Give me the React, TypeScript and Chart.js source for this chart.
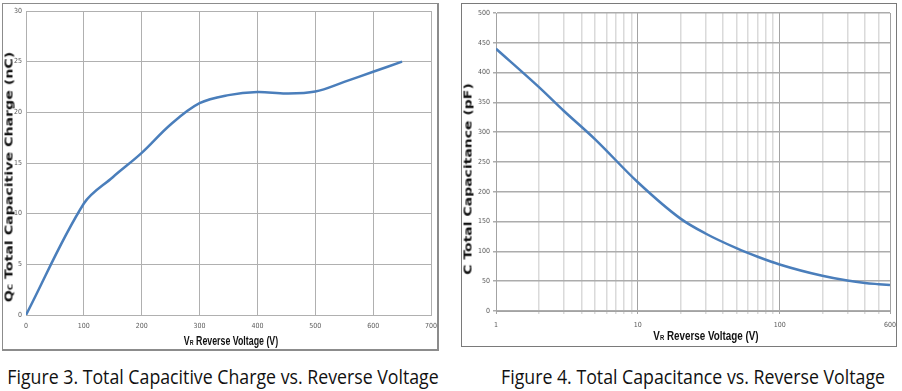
import React, { useEffect, useLayoutEffect, useRef, useState } from "react";
import { Chart, registerables } from "chart.js";

Chart.register(...registerables);

// ---- Figure 3 data ----
const chargeVoltage = [0, 100, 150, 200, 250, 300, 350, 400, 450, 500, 550, 600, 650];
const chargeValues = [0, 11.0, 13.6, 16.0, 18.8, 20.9, 21.7, 22.0, 21.85, 22.05, 23.0, 24.0, 25.0];

// ---- Figure 4 data ----
const capVoltage = [1, 2, 3, 5, 10, 20, 30, 50, 70, 100, 200, 300, 400, 500, 600];
const capValues = [440, 376, 336, 288, 216, 155, 130, 105, 91, 78, 59, 51, 47, 45, 43.5];

const logTicks = [1, 2, 3, 4, 5, 6, 7, 8, 9, 10, 20, 30, 40, 50, 60, 70, 80, 90, 100, 200, 300, 400, 500, 600];
const logLabels = [1, 10, 100, 600];
const logMajor = [1, 10, 100, 600];

const LINE = "#4a7ebb";
const TICK_FONT = { family: "'Liberation Sans Narrow', 'DejaVu Sans Condensed', 'Liberation Sans', sans-serif", size: 7 };
const TICK_COLOR = "#5a5a5a";

function FitText(props: any) {
  const { cx, cy, width, rotate, style, children } = props;
  const ref = useRef<HTMLSpanElement>(null);
  const [k, setK] = useState(1);
  useLayoutEffect(() => {
    const measure = () => {
      const el = ref.current;
      if (el) {
        const w = el.offsetWidth;
        if (w > 0) setK(width / w);
      }
    };
    measure();
    const f: any = (document as any).fonts;
    if (f && f.ready) f.ready.then(measure);
  }, [width]);
  return (
    <span
      ref={ref}
      style={{
        position: "absolute",
        left: cx,
        top: cy,
        whiteSpace: "nowrap",
        lineHeight: 1,
        transform: `translate(-50%, -50%) ${rotate ? "rotate(-90deg) " : ""}scaleX(${k})`,
        ...style,
      }}
    >
      {children}
    </span>
  );
}

function ChargeChart() {
  const ref = useRef<HTMLCanvasElement>(null);
  useEffect(() => {
    if (!ref.current) return;
    const chart = new Chart(ref.current, {
      type: "line",
      data: {
        datasets: [
          {
            data: chargeVoltage.map((v, i) => ({ x: v, y: chargeValues[i] })),
            borderColor: LINE,
            borderWidth: 2.5,
            pointRadius: 0,
            tension: 0.35,
            fill: false,
          },
        ],
      },
      options: {
        animation: false,
        responsive: false,
        maintainAspectRatio: false,
        layout: { padding: { top: 7, right: 6, left: 0, bottom: 0 } },
        plugins: { legend: { display: false }, tooltip: { enabled: false } },
        scales: {
          x: {
            type: "linear",
            min: 0,
            max: 700,
            afterFit: (s: any) => { s.height = 34; s.paddingLeft = 0; s.paddingRight = 0; },
            ticks: { stepSize: 100, font: TICK_FONT, color: TICK_COLOR, padding: 7, maxRotation: 0 },
            grid: { color: "#b0b0b0", lineWidth: 1, drawTicks: false },
            border: { color: "#b0b0b0" },
          },
          y: {
            type: "linear",
            min: 0,
            max: 30,
            afterFit: (s: any) => { s.width = 23; s.paddingTop = 0; s.paddingBottom = 0; },
            ticks: { stepSize: 5, font: TICK_FONT, color: TICK_COLOR, padding: 4 },
            grid: { color: "#b0b0b0", lineWidth: 1, drawTicks: false },
            border: { color: "#b0b0b0" },
          },
        },
      },
    } as any);
    return () => chart.destroy();
  }, []);
  return <canvas ref={ref} width={434} height={345} style={{ position: "absolute", left: 0, top: 0, width: 434, height: 345 }} />;
}

function CapChart() {
  const ref = useRef<HTMLCanvasElement>(null);
  useEffect(() => {
    if (!ref.current) return;
    const chart = new Chart(ref.current, {
      type: "line",
      data: {
        datasets: [
          {
            data: capVoltage.map((v, i) => ({ x: v, y: capValues[i] })),
            borderColor: LINE,
            borderWidth: 2.5,
            pointRadius: 0,
            cubicInterpolationMode: "monotone",
            fill: false,
          },
        ],
      },
      options: {
        animation: false,
        responsive: false,
        maintainAspectRatio: false,
        layout: { padding: { top: 9, right: 6, left: 0, bottom: 0 } },
        plugins: { legend: { display: false }, tooltip: { enabled: false } },
        scales: {
          x: {
            type: "logarithmic",
            min: 1,
            max: 600,
            afterFit: (s: any) => { s.height = 35; s.paddingLeft = 0; s.paddingRight = 0; },
            afterBuildTicks: (s: any) => { s.ticks = logTicks.map((v) => ({ value: v })); },
            ticks: {
              autoSkip: false,
              maxRotation: 0,
              font: TICK_FONT,
              color: TICK_COLOR,
              padding: 7,
              callback: (v: any) => (logLabels.includes(Number(v)) ? String(v) : ""),
            },
            grid: {
              color: (c: any) => (c.tick && logMajor.includes(c.tick.value) ? "#a3a3a3" : "#dadada"),
              lineWidth: (c: any) => (c.tick && logMajor.includes(c.tick.value) ? 1 : 1.5),
              drawTicks: true,
              tickLength: 3,
            },
            border: { color: "#a3a3a3" },
          },
          y: {
            type: "linear",
            min: 0,
            max: 500,
            afterFit: (s: any) => { s.width = 34; s.paddingTop = 0; s.paddingBottom = 0; },
            ticks: { stepSize: 50, font: TICK_FONT, color: TICK_COLOR, padding: 3 },
            grid: { color: "#acacac", lineWidth: 1.5, drawTicks: true, tickLength: 3 },
            border: { color: "#a3a3a3" },
          },
        },
      },
    } as any);
    return () => chart.destroy();
  }, []);
  return <canvas ref={ref} width={434} height={342} style={{ position: "absolute", left: 0, top: 0, width: 434, height: 342 }} />;
}

const yTitleStyle = { fontFamily: "'DejaVu Sans', Verdana, sans-serif", fontWeight: 700, fontSize: 11, color: "#111" };
const xTitleStyle = { fontFamily: "'Liberation Sans Narrow', 'Liberation Sans', Arial, sans-serif", fontWeight: 700, fontSize: 12, color: "#111" };
const capStyle = { fontFamily: "'Open Sans', 'Noto Sans', sans-serif", fontSize: 20, color: "#111" };
const sub = { fontSize: "0.6em" };

export default function App() {
  return (
    <div style={{ position: "absolute", left: 0, top: 0, width: 902, height: 391, background: "#fff", overflow: "hidden" }}>
      <div
        style={{
          position: "absolute",
          left: 2,
          top: 3,
          width: 437,
          height: 348,
          boxSizing: "border-box",
          border: "1px solid #8c8c8c",
          borderRightWidth: 2,
          borderBottomWidth: 2,
        }}
      >
        <ChargeChart />
      </div>
      <div
        style={{
          position: "absolute",
          left: 461,
          top: 3,
          width: 436,
          height: 344,
          boxSizing: "border-box",
          border: "1px solid #7a7a7a",
        }}
      >
        <CapChart />
      </div>

      <FitText cx={9} cy={177} width={250} rotate style={yTitleStyle}>
        Q<span style={sub}>C</span> Total Capacitive Charge (nC)
      </FitText>
      <FitText cx={231} cy={341} width={94} style={xTitleStyle}>
        V<span style={sub}>R</span> Reverse Voltage (V)
      </FitText>
      <FitText cx={468} cy={179} width={192} rotate style={yTitleStyle}>
        C Total Capacitance (pF)
      </FitText>
      <FitText cx={706} cy={336} width={105} style={xTitleStyle}>
        V<span style={sub}>R</span> Reverse Voltage (V)
      </FitText>

      <FitText cx={222.5} cy={377} width={431} style={capStyle}>
        Figure 3. Total Capacitive Charge vs. Reverse Voltage
      </FitText>
      <FitText cx={693.3} cy={377} width={384} style={capStyle}>
        Figure 4. Total Capacitance vs. Reverse Voltage
      </FitText>
    </div>
  );
}
